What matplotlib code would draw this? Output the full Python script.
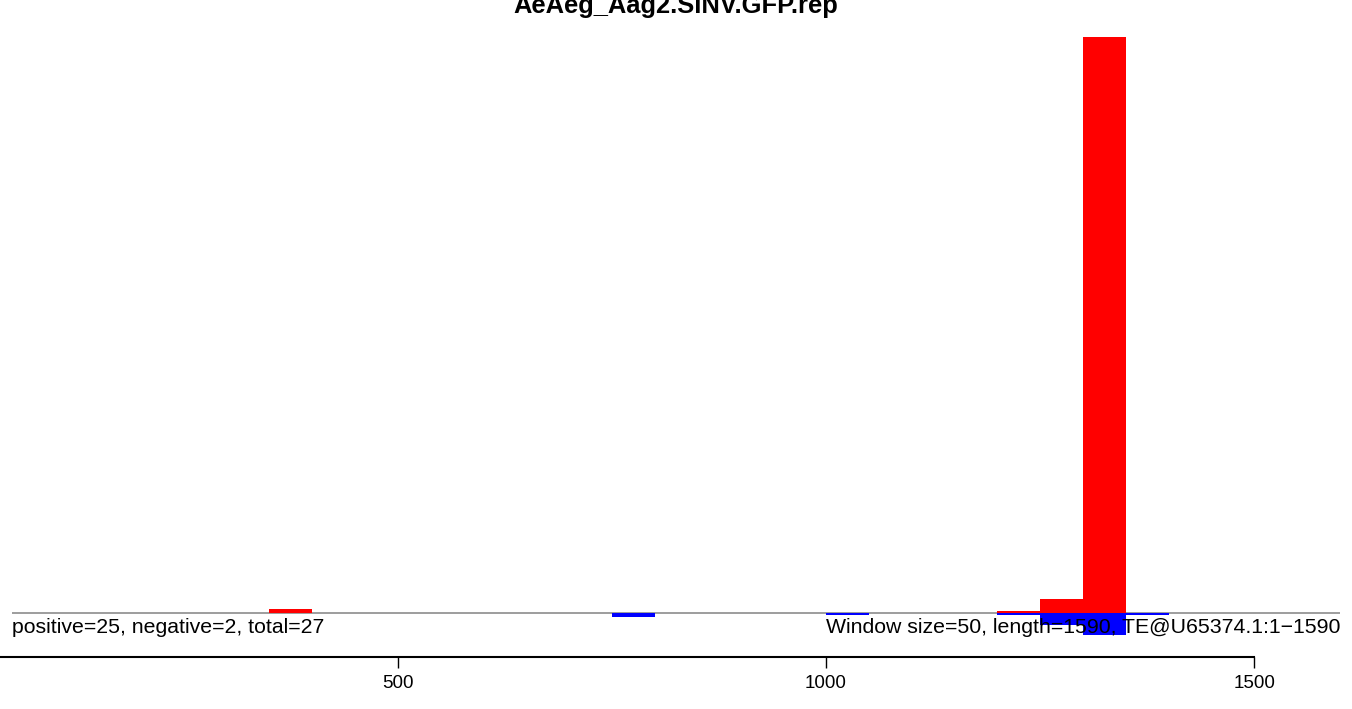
import numpy as np
import matplotlib.pyplot as plt

plt.rcParams['font.family'] = ['Liberation Sans', 'DejaVu Sans']

# window starts (window size 50), read counts per strand
win = 50
pos_start = [350, 1200, 1250, 1300]
pos_val = [1.0, 0.4, 3.5, 144.0]
neg_start = [750, 1000, 1200, 1250, 1300, 1350]
neg_val = [-1.0, -0.5, -0.5, -3.0, -5.5, -0.6]
xticks = [500, 1000, 1500]

title = 'AeAeg_Aag2.SINV.GFP.rep'
left_note = 'positive=25, negative=2, total=27'
right_note = 'Window size=50, length=1590, TE@U65374.1:1\u22121590'

W, H = 1352, 709
fig = plt.figure(figsize=(W / 100, H / 100), dpi=100)

# main panel: px 12..1340 horizontally, 30..640 vertically
x0, x1 = 12, 1340
top, bot, base = 30, 640, 613
scale = 4.0  # px per unit
ax = fig.add_axes([x0 / W, 1 - bot / H, (x1 - x0) / W, (bot - top) / H])
ax.set_xlim(50, 1600)
ax.set_ylim(-(bot - base) / scale, (base - top) / scale)
ax.axis('off')

ax.axhline(0, color='#8c8c8c', lw=1.2, zorder=1)
ax.bar(pos_start, pos_val, width=win, align='edge', color='red', lw=0, zorder=2)
ax.bar(neg_start, neg_val, width=win, align='edge', color='blue', lw=0, zorder=3)

fig.text(x0 / W, 1 - 618 / H, left_note, ha='left', va='top', fontsize=15.3, zorder=5)
fig.text(x1 / W, 1 - 618 / H, right_note, ha='right', va='top', fontsize=15.3, zorder=5)

fig.text(0.5, 1 - 13 / H, title, ha='center', va='baseline', fontsize=18.4,
         fontweight='bold')

# x axis panel
axy = 657
ax2 = fig.add_axes([x0 / W, 1 - axy / H, (x1 - x0) / W, 0.01])
ax2.set_xlim(50, 1600)
ax2.patch.set_visible(False)
for s in ['top', 'left', 'right']:
    ax2.spines[s].set_visible(False)
ax2.spines['bottom'].set_bounds(0, 1500)
ax2.spines['bottom'].set_linewidth(1.5)
ax2.set_yticks([])
ax2.set_xticks(xticks)
ax2.set_xticklabels([str(t) for t in xticks])
ax2.tick_params(axis='x', direction='out', length=8, width=1, pad=5, labelsize=13.5)

fig.savefig('out.png', dpi=100)
